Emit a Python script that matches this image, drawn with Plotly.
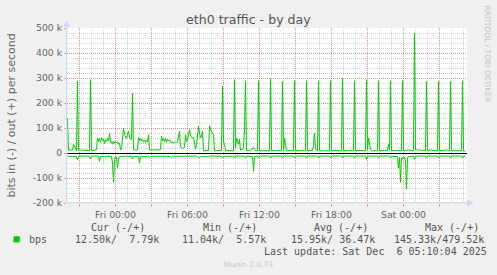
import plotly.graph_objects as go
import pandas as pd

# ---------------- data ----------------
# minutes from Fri 2025-12-05 00:00, values in k bits/s
out_min = [-240, -235, -225, -215, -210, -205, -200, -195, -190, -185, -175, -160, -145, -130, -125, -120,
           -110, -100, -95, -90, -85, -80, -75, -70, -65, -60, -55, -50, -45, -40, -35, -30, -25, -20, -15,
           -10, -5, 0, 5, 10, 15, 20, 25, 30, 35, 40, 45, 50, 55, 60, 65, 70, 75, 80, 85, 90, 100, 110, 115,
           120, 125, 130, 135, 140, 145, 150, 155, 160, 165, 170, 180, 190, 200, 210, 220, 225, 230, 235, 240,
           245, 250, 255, 260, 265, 270, 275, 280, 285, 290, 295, 300, 305, 310, 320, 325, 330, 335, 340, 345,
           350, 355, 360, 370, 375, 380, 385, 390, 395, 400, 405, 415, 420, 425, 430, 435, 440, 450, 465, 470,
           475, 480, 490, 495, 510, 525, 530, 535, 540, 545, 550, 570, 590, 595, 600, 605, 610, 615, 620, 625,
           640, 645, 650, 655, 670, 680, 685, 690, 695, 700, 710, 715, 720, 745, 770, 775, 780, 805, 830, 835,
           840, 845, 850, 855, 875, 890, 895, 900, 925, 950, 955, 960, 985, 990, 995, 1000, 1010, 1015, 1020,
           1045, 1070, 1075, 1080, 1105, 1130, 1135, 1140, 1165, 1190, 1195, 1200, 1225, 1250, 1255, 1260, 1265,
           1270, 1275, 1280, 1310, 1315, 1320, 1345, 1360, 1365, 1370, 1375, 1380, 1405, 1430, 1435, 1440, 1455,
           1465, 1480, 1490, 1495, 1500, 1505, 1510, 1520, 1530, 1540, 1550, 1555, 1560, 1575, 1590, 1600, 1610,
           1615, 1620, 1640, 1655, 1670, 1675, 1680, 1700, 1715, 1730, 1735, 1740, 1750]
out_k = [140, 11, 12, 11, 33, 30, 12, 10, 289, 10, 12, 11, 12, 10, 293, 10,
         11, 11, 13, 60, 45, 58, 42, 62, 50, 55, 38, 52, 45, 60, 48, 80, 42, 45, 35,
         48, 38, 45, 40, 45, 35, 40, 13, 15, 70, 100, 75, 65, 58, 75, 87, 62, 55, 53, 240, 13, 12, 13, 62,
         50, 58, 48, 55, 45, 52, 42, 50, 45, 73, 13, 12, 13, 12, 13, 12, 14, 67, 50, 58,
         45, 60, 42, 55, 48, 53, 45, 40, 45, 38, 42, 45, 40, 45, 87, 25, 20, 18, 20, 22,
         73, 45, 50, 93, 70, 62, 60, 62, 40, 15, 30, 107, 80, 60, 67, 87, 9, 9, 10, 109,
         93, 85, 73, 9, 10, 9, 10, 267, 45, 35, 9, 10, 9, 293, 20, 60, 40, 35, 55, 11,
         20, 93, 289, 9, 10, 12, 20, 22, 15, 9, 9, 289, 9, 10, 9, 297, 9, 10, 9, 286,
         9, 60, 20, 9, 10, 9, 289, 9, 10, 9, 289, 9, 10, 30, 80, 15, 9, 289, 9,
         10, 9, 289, 9, 10, 9, 298, 9, 10, 9, 289, 9, 10, 9, 294, 12, 60,
         35, 15, 9, 9, 289, 9, 10, 9, 35, 12, 289, 9, 10, 9, 289, 9, 10,
         12, 9, 10, 480, 12, 14, 11, 13, 10, 12, 9, 286, 9, 12, 10, 11, 9,
         286, 9, 10, 12, 9, 286, 9, 10, 9, 9, 289, 8, 8]

in_min = [-240, -200, -195, -190, -185, -160, -130, -125, -120, -100, -85, -80, -75, -50, -20, -15, -10, -5, 0,
          5, 10, 15, 20, 50, 80, 85, 90, 115, 120, 125, 165, 170, 175, 230, 275, 280, 285, 350, 400, 410, 420,
          430, 470, 475, 530, 535, 540, 590, 595, 600, 645, 650, 655, 685, 690, 695, 710, 715, 720, 770, 775,
          780, 830, 835, 840, 890, 895, 900, 950, 955, 960, 1010, 1015, 1020, 1070, 1075, 1080, 1130, 1135,
          1140, 1190, 1195, 1200, 1250, 1255, 1260, 1310, 1315, 1320, 1370, 1375, 1380, 1405, 1410, 1415, 1420,
          1425, 1430, 1435, 1440, 1445, 1450, 1455, 1460, 1465, 1490, 1495, 1500, 1550, 1555, 1560, 1610, 1615,
          1620, 1670, 1675, 1680, 1730, 1735, 1740, 1750]
in_k = [-13, -12, -14, -27, -13, -12, -13, -23, -13, -12, -13, -33, -14, -13, -14, -40, -117, -30, -14,
        -16, -58, -20, -14, -13, -13, -22, -14, -14, -40, -15, -13, -18, -13, -13, -14, -18, -13, -13, -12, -15, -17,
        -14, -15, -12, -13, -20, -13, -13, -20, -12, -13, -20, -12, -14, -73, -15, -12, -20, -12, -12, -20,
        -12, -12, -20, -12, -12, -20, -12, -12, -20, -12, -12, -20, -12, -12, -20, -12, -12, -20,
        -12, -12, -20, -12, -12, -25, -12, -12, -20, -12, -12, -20, -12, -13, -15, -60, -18,
        -117, -20, -25, -15, -18, -30, -144, -20, -14, -13, -25, -12, -12, -20, -12, -12, -20,
        -12, -12, -20, -12, -12, -20, -12, -12]

y_tick_vals = [-200000, -100000, 0, 100000, 200000, 300000, 400000, 500000]
y_tick_text = ["-200 k", "-100 k", "0", "100 k", "200 k", "300 k", "400 k", "500 k"]
x_tick_hours = [-3, 0, 3, 6, 9, 12, 15, 18, 21, 24, 27]
x_tick_text = ["", "Fri 00:00", "", "Fri 06:00", "", "Fri 12:00", "", "Fri 18:00", "", "Sat 00:00", ""]

title_text = "eth0 traffic - by day"
ylabel_text = "bits in (-) / out (+) per second"
legend_headers = ["Cur (-/+)", "Min (-/+)", "Avg (-/+)", "Max (-/+)"]
legend_values = ["12.50k/  7.79k", "11.04k/  5.57k", "15.95k/ 36.47k", "145.33k/479.52k"]
series_name = "bps"
last_update = "Last update: Sat Dec  6 05:10:04 2025"
munin_text = "Munin 2.0.73"
watermark = "RRDTOOL / TOBI OETIKER"

# ---------------- figure ----------------
W, H = 497, 275
L, R, T, B = 67, 467, 28, 203


def px(x):
    return (x - L) / (R - L)


def py(y):
    return (B - y) / (B - T)


base = pd.Timestamp("2025-12-05 00:00")
out_x = base + pd.to_timedelta(out_min, unit="m")
in_x = base + pd.to_timedelta(in_min, unit="m")
out_y = [v * 1000 for v in out_k]
in_y = [v * 1000 for v in in_k]

GREEN = "#00cc00"
FONT = "#666666"
AXIS = "#CFD6F8"
MGRID = "rgba(222,79,79,0.5)"
GRID = "rgba(143,143,143,0.38)"

fig = go.Figure()
fig.add_trace(go.Scatter(x=in_x, y=in_y, mode="lines", line=dict(color=GREEN, width=1), showlegend=False,
                         hoverinfo="skip"))
fig.add_trace(go.Scatter(x=out_x, y=out_y, mode="lines", line=dict(color=GREEN, width=1), showlegend=False,
                         hoverinfo="skip"))

x0 = base + pd.Timedelta(minutes=(L - 115.5) * 5)
x1 = base + pd.Timedelta(minutes=(R - 115.5) * 5)

fig.update_layout(
    width=W, height=H,
    margin=dict(l=L, r=W - R, t=T, b=H - B, pad=0),
    paper_bgcolor="#f0f0f0", plot_bgcolor="#ffffff",
    font=dict(family="DejaVu Sans", color=FONT, size=9.3),
    xaxis=dict(
        type="date", range=[x0, x1],
        tickmode="array",
        tickvals=[base + pd.Timedelta(hours=h) for h in x_tick_hours],
        ticktext=x_tick_text,
        showgrid=True, gridcolor=MGRID, griddash="1px,1px", gridwidth=1,
        ticks="outside", ticklen=3, tickcolor=MGRID, tickwidth=1,
        minor=dict(dtick=3600000, tick0="2025-12-05 00:00", showgrid=True, gridcolor=GRID,
                   griddash="1px,1px", gridwidth=1, ticks=""),
        showline=False, zeroline=False, fixedrange=True,
        tickfont=dict(size=9.3, color=FONT),
    ),
    yaxis=dict(
        range=[-200000, 500000],
        tickmode="array", tickvals=y_tick_vals, ticktext=y_tick_text,
        showgrid=True, gridcolor=MGRID, griddash="1px,1px", gridwidth=1,
        ticks="outside", ticklen=2, tickcolor=MGRID,
        minor=dict(dtick=20000, tick0=0, showgrid=True, gridcolor=GRID, griddash="1px,1px", gridwidth=1, ticks=""),
        zeroline=True, zerolinecolor="#000000", zerolinewidth=1.3,
        showline=False, fixedrange=True,
        tickfont=dict(size=9.3, color=FONT),
    ),
)

shapes = []
# axes with arrows
shapes.append(dict(type="line", xref="paper", yref="paper", x0=px(66.7), x1=px(66.7), y0=py(B), y1=py(23),
                   line=dict(color=AXIS, width=1.2)))
shapes.append(dict(type="line", xref="paper", yref="paper", x0=px(L), x1=px(470), y0=py(202.7), y1=py(202.7),
                   line=dict(color=AXIS, width=1.2)))
shapes.append(dict(type="path", xref="paper", yref="paper",
                   path=f"M {px(63.7)} {py(26.5)} L {px(69.7)} {py(26.5)} L {px(66.7)} {py(20.5)} Z",
                   fillcolor=AXIS, line=dict(color=AXIS, width=0.5)))
shapes.append(dict(type="path", xref="paper", yref="paper",
                   path=f"M {px(467.5)} {py(199.7)} L {px(467.5)} {py(205.7)} L {px(473.5)} {py(202.7)} Z",
                   fillcolor=AXIS, line=dict(color=AXIS, width=0.5)))
# legend swatch
shapes.append(dict(type="rect", xref="paper", yref="paper", x0=px(13.5), x1=px(19.8), y0=py(242.3), y1=py(236.3),
                   fillcolor=GREEN, line=dict(color=GREEN, width=0)))
fig.update_layout(shapes=shapes)

ann = []
ann.append(dict(text=title_text, x=px(248.5), y=py(19.5), xref="paper", yref="paper", showarrow=False,
                xanchor="center", yanchor="middle", font=dict(family="DejaVu Sans", size=12.6, color="#555555")))
ann.append(dict(text=ylabel_text, x=px(11), y=py(115.5), xref="paper", yref="paper", showarrow=False,
                textangle=-90, xanchor="center", yanchor="middle",
                font=dict(family="DejaVu Sans", size=11, color=FONT)))
ann.append(dict(text=watermark, x=px(487), y=py(53.5), xref="paper", yref="paper", showarrow=False,
                textangle=90, xanchor="center", yanchor="middle",
                font=dict(family="DejaVu Sans", size=7.5, color="#c4c4c4")))
mono = dict(family="DejaVu Sans Mono", size=10, color="#555555")
for txt, xl in zip(legend_headers, [89, 201, 312, 422.7]):
    ann.append(dict(text=txt.replace(" ", "&nbsp;"), x=px(xl), y=py(227.7), xref="paper", yref="paper",
                    showarrow=False, xanchor="left", yanchor="middle", font=mono))
ann.append(dict(text=series_name, x=px(26.7), y=py(239.3), xref="paper", yref="paper", showarrow=False,
                xanchor="left", yanchor="middle", font=mono))
for txt, xl in zip(legend_values, [72.7, 180.3, 289.3, 391.7]):
    ann.append(dict(text=txt.replace(" ", "&nbsp;"), x=px(xl), y=py(239.3), xref="paper", yref="paper",
                    showarrow=False, xanchor="left", yanchor="middle", font=mono))
ann.append(dict(text=last_update.replace(" ", "&nbsp;"), x=px(261.7), y=py(251), xref="paper", yref="paper",
                showarrow=False, xanchor="left", yanchor="middle", font=mono))
ann.append(dict(text=munin_text, x=px(248), y=py(264), xref="paper", yref="paper", showarrow=False,
                xanchor="center", yanchor="middle", font=dict(family="DejaVu Sans", size=7.5, color="#c8c8c8")))
fig.update_layout(annotations=ann)

fig.write_html("out.html", config={"displayModeBar": False})
